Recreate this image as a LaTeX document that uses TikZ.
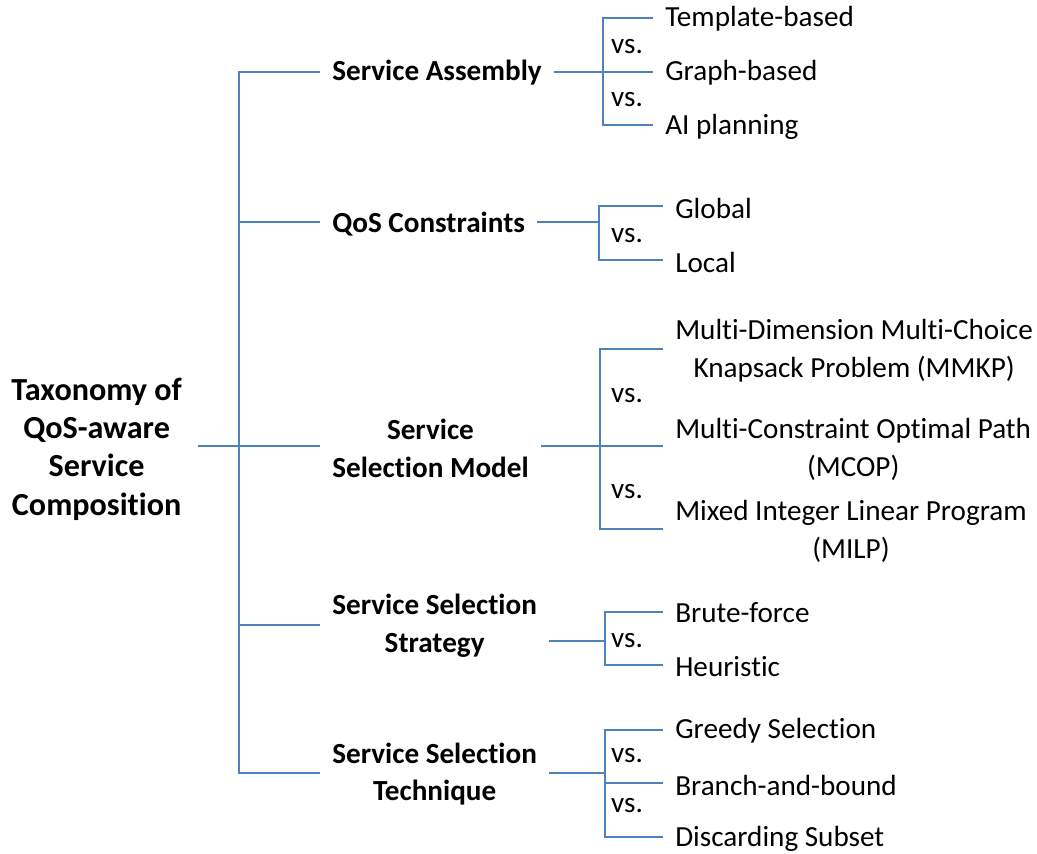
\documentclass[tikz,border=0pt]{standalone}
\usepackage{fontspec}
\setmainfont[Ligatures=NoCommon]{Carlito}
\usepackage{xcolor}
\definecolor{linkblue}{RGB}{79,129,189}

\begin{document}
\begin{tikzpicture}[
    x=0.02cm,y=-0.02cm,
    every node/.style={font=\fontsize{16.6}{21.5}\selectfont},
    rootnode/.style={anchor=east,align=center,inner xsep=9pt,
      font=\fontsize{18.3}{21.8}\selectfont\bfseries},
    branch/.style={anchor=west,align=center,inner xsep=6.8pt,
      font=\fontsize{16.6}{21.5}\selectfont\bfseries},
    leaf/.style={anchor=west,align=center,inner xsep=6.8pt},
    versus/.style={inner sep=0pt},
    link/.style={draw=linkblue,line width=0.85pt}
  ]
    \useasboundingbox (0,0) rectangle (1037,853);

    % root and first level
    \node[rootnode] (root) at (198,449) {Taxonomy of\\QoS-aware\\Service\\Composition};
    \node[branch] (sa) at (320,73) {Service Assembly};
    \node[branch] (qos) at (320,224) {QoS Constraints};
    \node[branch] (ssm) at (320,448) {Service\\Selection Model};
    \node[branch] (sss) at (320,626) {Service Selection\\Strategy};
    \node[branch] (sst) at (320,774) {Service Selection\\Technique};

    \coordinate (trunk) at (239,446);
    \draw[link] (root.east |- trunk) -- (trunk -| ssm.west);
    \draw[link] (sa.west |- 0,72) -| (trunk) |- (sst.west |- 0,773);
    \draw[link] (qos.west |- 0,222) -- (trunk |- 0,222);
    \draw[link] (sss.west |- 0,625) -- (trunk |- 0,625);

    % second level: options
    \node[leaf] (tb) at (653,19) {Template-based};
    \node[leaf] (gb) at (653,73) {Graph-based};
    \node[leaf] (aip) at (653,127) {AI planning};

    \node[leaf] (glob) at (663,208) {Global};
    \node[leaf] (loc) at (663,262) {Local};

    \node[leaf] (mmkp) at (663,351) {Multi-Dimension Multi-Choice\\Knapsack Problem (MMKP)};
    \node[leaf] (mcop) at (663,449) {Multi-Constraint Optimal Path\\(MCOP)};
    \node[leaf] (milp) at (663,531) {Mixed Integer Linear Program\\(MILP)};

    \node[leaf] (bf) at (663,613) {Brute-force};
    \node[leaf] (heu) at (663,667) {Heuristic};

    \node[leaf] (greedy) at (663,731) {Greedy Selection};
    \node[leaf] (bnb) at (663,785) {Branch-and-bound};
    \node[leaf] (disc) at (663,839) {Discarding Subset};

    % forks: where the branch meets the bracket
    \coordinate (fsa) at (603,72);
    \coordinate (fqos) at (599,222);
    \coordinate (fssm) at (600,446);
    \coordinate (fsss) at (605,641);
    \coordinate (fsst) at (605,773);

    \draw[link] (sa.east |- fsa) -- (fsa);
    \draw[link] (tb.west |- 0,18) -| (fsa) |- (aip.west |- 0,125);
    \draw[link] (fsa) -- (fsa -| gb.west);

    \draw[link] (qos.east |- fqos) -- (fqos);
    \draw[link] (glob.west |- 0,206) -| (fqos) |- (loc.west |- 0,260);

    \draw[link] (ssm.east |- fssm) -- (fssm);
    \draw[link] (mmkp.west |- 0,349) -| (fssm) |- (milp.west |- 0,529);
    \draw[link] (fssm) -- (fssm -| mcop.west);

    \draw[link] (sss.east |- fsss) -- (fsss);
    \draw[link] (bf.west |- 0,612) -| (fsss) |- (heu.west |- 0,665);

    \draw[link] (sst.east |- fsst) -- (fsst);
    \draw[link] (greedy.west |- 0,730) -| (fsst) |- (disc.west |- 0,837);
    \draw[link] (fsst |- 0,783) -- (bnb.west |- 0,783);

    % vs. marks
    \node[versus] (vs1) at (627,47) {vs.};
    \node[versus] (vs2) at (627,100) {vs.};
    \node[versus] (vs3) at (627,236) {vs.};
    \node[versus] (vs4) at (627,396) {vs.};
    \node[versus] (vs5) at (627,492) {vs.};
    \node[versus] (vs6) at (627,641) {vs.};
    \node[versus] (vs7) at (627,756) {vs.};
    \node[versus] (vs8) at (627,806) {vs.};
  \end{tikzpicture}
\end{document}
